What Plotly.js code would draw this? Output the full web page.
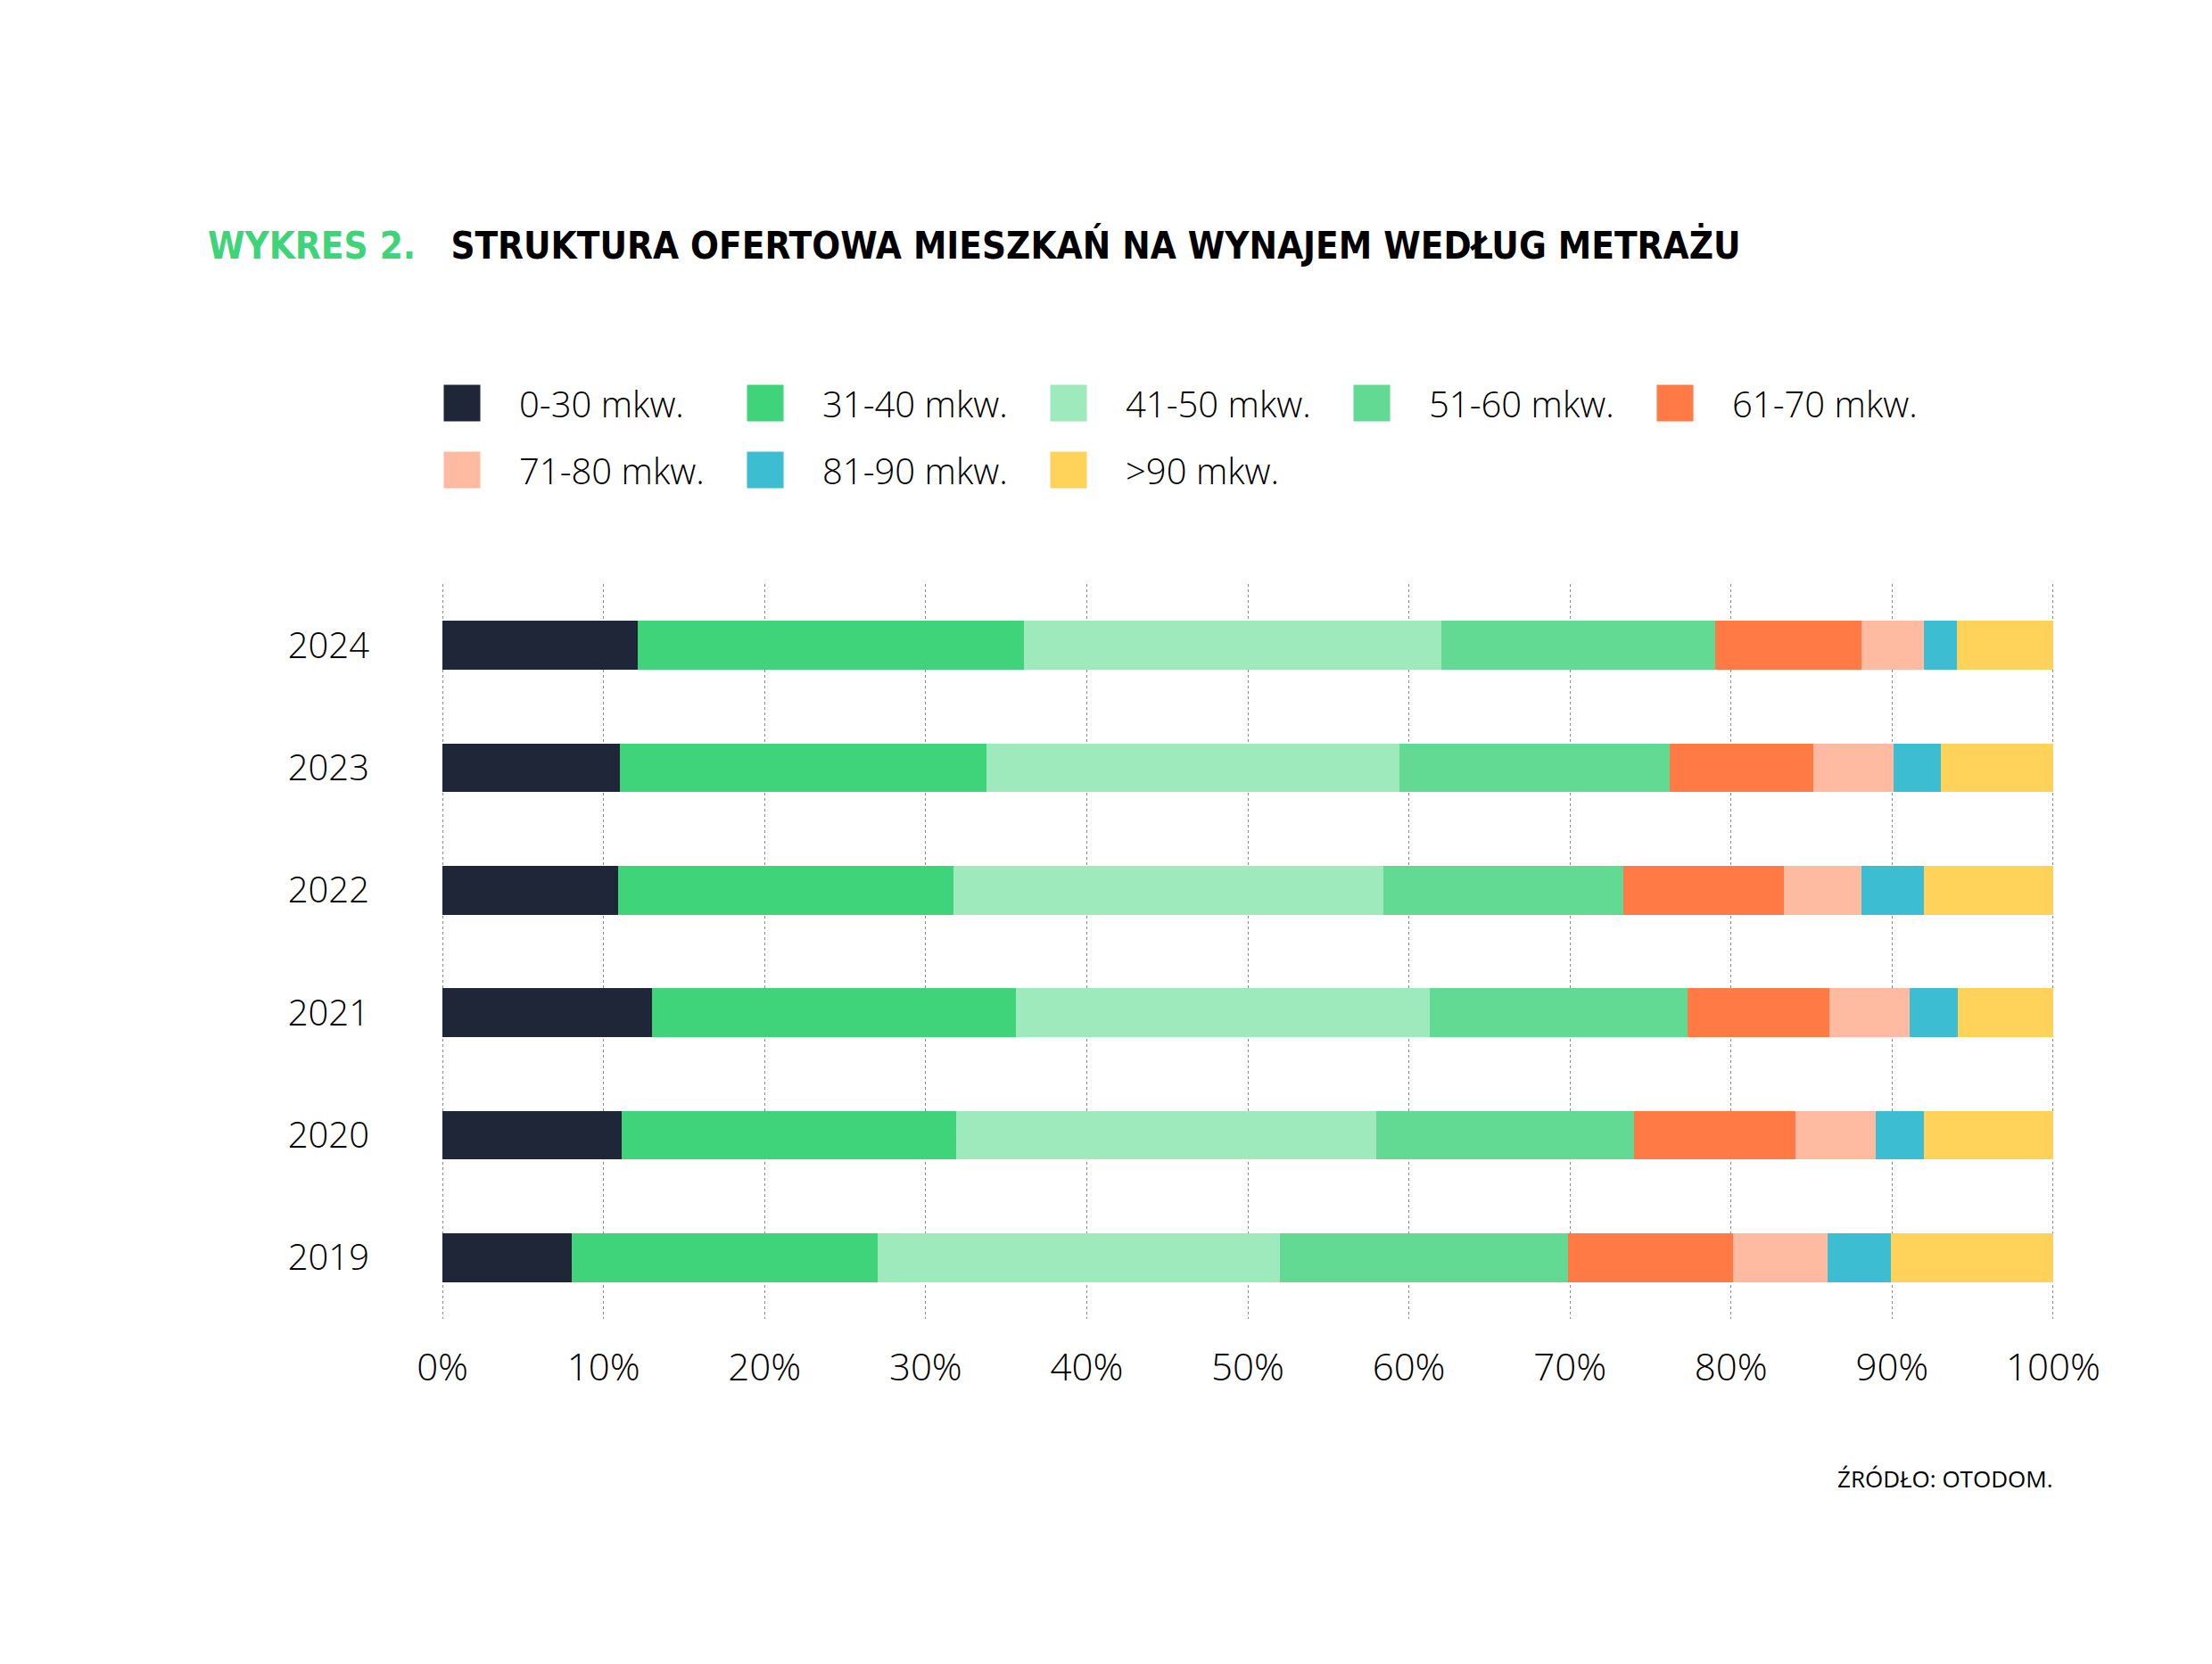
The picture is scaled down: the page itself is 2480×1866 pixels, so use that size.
<!DOCTYPE html>
<html>
<head>
<meta charset="utf-8">
<script src="https://cdn.plot.ly/plotly-3.0.1.min.js"></script>
<style>
html,body{margin:0;padding:0;background:#fff;}
#chart{width:2480px;height:1866px;}
</style>
</head>
<body>
<div id="chart"></div>
<script>
// ---- data ----
const years = ['2019', '2020', '2021', '2022', '2023', '2024'];
const seriesNames = ['0-30 mkw.', '31-40 mkw.', '41-50 mkw.', '51-60 mkw.', '61-70 mkw.', '71-80 mkw.', '81-90 mkw.', '>90 mkw.'];
const s0_30   = [8.0, 11.1, 13.0, 10.9, 11.0, 12.1];
const s31_40  = [19.0, 20.8, 22.6, 20.8, 22.8, 24.0];
const s41_50  = [25.0, 26.1, 25.7, 26.7, 25.6, 25.9];
const s51_60  = [17.9, 16.0, 16.0, 14.9, 16.8, 17.0];
const s61_70  = [10.2, 10.0, 8.8, 10.0, 8.9, 9.1];
const s71_80  = [5.9, 5.0, 5.0, 4.8, 5.0, 3.9];
const s81_90  = [3.9, 3.0, 3.0, 3.9, 2.9, 2.0];
const s90plus = [10.1, 8.0, 5.9, 8.0, 7.0, 6.0];
const xTickVals = [0, 10, 20, 30, 40, 50, 60, 70, 80, 90, 100];
const xTickText = ['0%', '10%', '20%', '30%', '40%', '50%', '60%', '70%', '80%', '90%', '100%'];

const seriesValues = [s0_30, s31_40, s41_50, s51_60, s61_70, s71_80, s81_90, s90plus];
const colors = ['#1e2638', '#3fd37a', '#9eeabc', '#63da93', '#ff7a45', '#ffbba1', '#3dbdd2', '#ffd25a'];

const lightFont = {family: '"Open Sans", "Noto Sans", sans-serif', size: 40, color: '#000000', weight: 300};

const traces = seriesValues.map((vals, i) => ({
  type: 'bar',
  orientation: 'h',
  name: seriesNames[i],
  y: years,
  x: vals,
  marker: {color: colors[i], line: {width: 0}},
  legend: i < 5 ? 'legend' : 'legend2',
  hoverinfo: 'skip'
}));

const legendCommon = {
  orientation: 'h',
  xref: 'container', yref: 'container',
  x: 454 / 2480, xanchor: 'left',
  yanchor: 'middle',
  font: lightFont,
  itemwidth: 118,
  entrywidth: 207,
  entrywidthmode: 'pixels',
  bgcolor: 'rgba(0,0,0,0)',
  borderwidth: 0,
  traceorder: 'normal',
  itemclick: false, itemdoubleclick: false
};

const layout = {
  width: 2480, height: 1866,
  paper_bgcolor: '#ffffff', plot_bgcolor: '#ffffff',
  barmode: 'stack',
  bargap: 0.6,
  margin: {l: 495, r: 177, t: 655, b: 387, pad: 0},
  title: {
    text: '<span style="color:#3fd37a">WYKRES 2.</span>\u00A0\u00A0\u00A0STRUKTURA OFERTOWA MIESZKAŃ NA WYNAJEM WEDŁUG METRAŻU',
    xref: 'container', yref: 'container',
    x: 233 / 2480, xanchor: 'left',
    y: 1 - 275 / 1866, yanchor: 'middle',
    font: {family: '"Liberation Sans Narrow", "DejaVu Sans Condensed", "Roboto", sans-serif', size: 41.8, color: '#000000', weight: 700}
  },
  xaxis: {
    range: [-0.06, 100.06],
    tickvals: xTickVals,
    ticktext: xTickText,
    showgrid: true,
    gridcolor: '#8a8a8a',
    gridwidth: 1,
    griddash: 'dot',
    zeroline: false,
    showline: false,
    ticks: '',
    ticklabelstandoff: 26,
    tickfont: Object.assign({}, lightFont, {size: 42}),
    fixedrange: true
  },
  yaxis: {
    type: 'category',
    categoryorder: 'array',
    categoryarray: years,
    showgrid: false,
    zeroline: false,
    showline: false,
    ticks: '',
    ticklabelstandoff: 80,
    tickfont: lightFont,
    fixedrange: true
  },
  legend: Object.assign({}, legendCommon, {y: 1 - 452 / 1866}),
  legend2: Object.assign({}, legendCommon, {y: 1 - 527 / 1866}),
  annotations: [{
    text: 'ŹRÓDŁO: OTODOM.',
    xref: 'paper', yref: 'paper',
    x: 1, xanchor: 'right',
    y: (1479 - 1658) / 824, yanchor: 'middle',
    showarrow: false,
    font: {family: '"Open Sans", "Noto Sans", sans-serif', size: 26, color: '#000000', weight: 400}
  }],
  showlegend: true
};

function enlargeLegendSymbols() {
  document.querySelectorAll('#chart .legendpoints path').forEach(p => {
    if (p.getAttribute('data-scaled') === '1') return;
    const t = p.getAttribute('transform') || '';
    p.setAttribute('transform', t + ' scale(3.42)');
    p.setAttribute('data-scaled', '1');
  });
}

Plotly.newPlot('chart', traces, layout, {staticPlot: true, displayModeBar: false}).then(gd => {
  enlargeLegendSymbols();
  gd.on('plotly_afterplot', enlargeLegendSymbols);
});
</script>
</body>
</html>
